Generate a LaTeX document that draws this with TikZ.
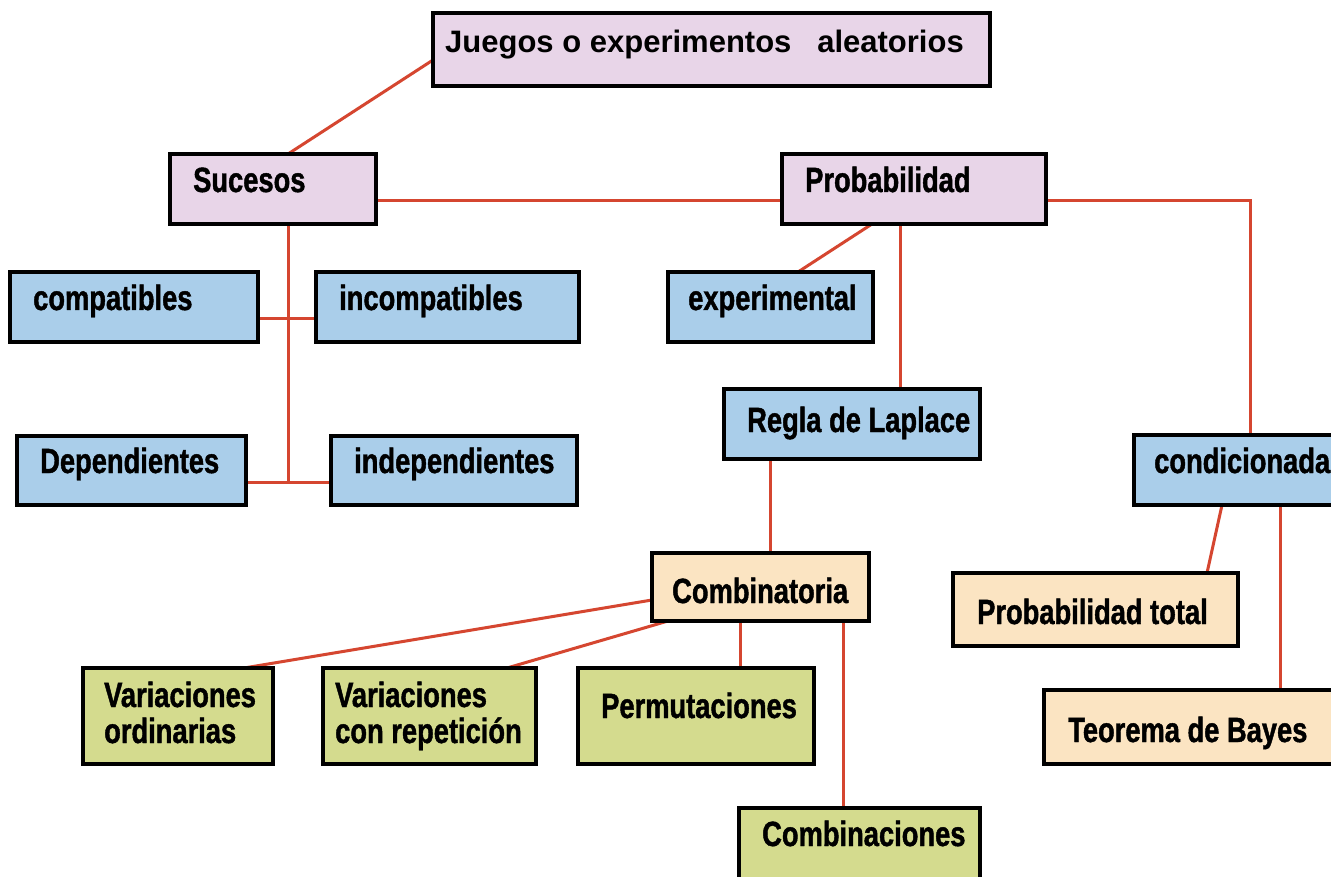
\documentclass[tikz,border=0pt]{standalone}
\usepackage{fontspec}
\usetikzlibrary{backgrounds}
\newfontfamily\condf{Liberation Sans Bold}[FakeStretch=0.78,FakeBold=1.2]
\newfontfamily\titf{Liberation Sans Bold}
\definecolor{pinkc}{RGB}{232,213,232}
\definecolor{bluec}{RGB}{170,206,234}
\definecolor{peachc}{RGB}{251,228,194}
\definecolor{greenc}{RGB}{212,219,142}
\definecolor{linec}{RGB}{213,70,48}
\begin{document}
\begin{tikzpicture}[x=1pt,y=-1pt,
  box/.style={draw=black,line width=3.5pt,rectangle,inner sep=0pt,outer sep=0pt,anchor=north west},
  conn/.style={draw=linec,line width=3pt},
  lbl/.style={inner sep=0pt,anchor=base west,font=\condf\fontsize{35}{36}\selectfont},
  ttl/.style={inner sep=0pt,anchor=base west,font=\titf\fontsize{31}{32}\selectfont}]
\useasboundingbox (0,0) rectangle (1331,877);
\clip (0,0) rectangle (1331,877);
% boxes
\path
 node[box,fill=pinkc,minimum width=557pt,minimum height=73pt] (juegos) at (433,13) {}
 node[box,fill=pinkc,minimum width=206pt,minimum height=70pt] (sucesos) at (170,154) {}
 node[box,fill=pinkc,minimum width=264pt,minimum height=70pt] (probab) at (782,154) {}
 node[box,fill=bluec,minimum width=248pt,minimum height=70pt] (compat) at (10,272) {}
 node[box,fill=bluec,minimum width=263pt,minimum height=70pt] (incompat) at (316,272) {}
 node[box,fill=bluec,minimum width=205pt,minimum height=70pt] (experim) at (668,272) {}
 node[box,fill=bluec,minimum width=229pt,minimum height=69pt] (depend) at (17,436) {}
 node[box,fill=bluec,minimum width=246pt,minimum height=69pt] (indep) at (331,436) {}
 node[box,fill=bluec,minimum width=256pt,minimum height=70pt] (regla) at (724,389) {}
 node[box,fill=bluec,minimum width=215pt,minimum height=70pt] (condic) at (1134,435) {}
 node[box,fill=peachc,minimum width=217pt,minimum height=68pt] (combin) at (652,553) {}
 node[box,fill=peachc,minimum width=285pt,minimum height=73pt] (ptotal) at (953,573) {}
 node[box,fill=greenc,minimum width=190pt,minimum height=96pt] (varord) at (83,668) {}
 node[box,fill=greenc,minimum width=213pt,minimum height=96pt] (varrep) at (323,668) {}
 node[box,fill=greenc,minimum width=236pt,minimum height=96pt] (perm) at (578,668) {}
 node[box,fill=peachc,minimum width=300pt,minimum height=74pt] (bayes) at (1044,690) {}
 node[box,fill=greenc,minimum width=241pt,minimum height=90pt] (combinac) at (739,808) {};
% connectors
\coordinate (sv) at (288,482);
\begin{pgfonlayer}{background}
\draw[conn] ([yshift=26pt]juegos.south west) -- ([xshift=118pt]sucesos.north west);
\draw[conn] ([yshift=-12pt]sucesos.east) -- ([yshift=-12pt]probab.west);
\draw[conn] ([xshift=118pt]sucesos.south west) -- (sv);
\draw[conn] ([yshift=-12pt]compat.east) -- ([yshift=-12pt]incompat.west);
\draw[conn] ([yshift=-11.5pt]depend.east) -- ([yshift=-11.5pt]indep.west);
\draw[conn] ([xshift=90pt]probab.south west) -- ([xshift=130pt]experim.north west);
\draw[conn] ([xshift=118pt]probab.south west) -- ([xshift=176pt]regla.north west);
\draw[conn] ([yshift=-12pt]probab.east) -| ([xshift=116pt]condic.north west);
\draw[conn] ([xshift=46pt]regla.south west) -- ([xshift=118pt]combin.north west);
\draw[conn] ([yshift=21pt]combin.south west) -- ([xshift=161pt]varord.north west);
\draw[conn] ([xshift=16pt]combin.south west) -- ([xshift=184pt]varrep.north west);
\draw[conn] ([xshift=88pt]combin.south west) -- ([xshift=162pt]perm.north west);
\draw[conn] ([xshift=191pt]combin.south west) -- ([xshift=104pt]combinac.north west);
\draw[conn] ([xshift=88pt]condic.south west) -- ([xshift=254pt]ptotal.north west);
\draw[conn] ([xshift=146pt]condic.south west) -- ([xshift=236pt]bayes.north west);
\end{pgfonlayer}
% texts
\node[ttl] (t-juegos) at (445,53) {Juegos o experimentos\ \ \ aleatorios};
\node[lbl] (t-sucesos) at (193,192) {Sucesos};
\node[lbl] (t-probab) at (805,192) {Probabilidad};
\node[lbl] (t-compat) at (33,310) {compatibles};
\node[lbl] (t-incompat) at (339,310) {incompatibles};
\node[lbl] (t-experim) at (688,310) {experimental};
\node[lbl] (t-depend) at (40,473) {Dependientes};
\node[lbl] (t-indep) at (354,473) {independientes};
\node[lbl] (t-regla) at (747,432) {Regla de Laplace};
\node[lbl] (t-condic) at (1154,473) {condicionada};
\node[lbl] (t-combin) at (672,603) {Combinatoria};
\node[lbl] (t-ptotal) at (977,624) {Probabilidad total};
\node[lbl,align=left] (t-varord) at (104,743) {Variaciones\\ordinarias};
\node[lbl,align=left] (t-varrep) at (335,743) {Variaciones\\con repetición};
\node[lbl] (t-perm) at (601,718) {Permutaciones};
\node[lbl] (t-bayes) at (1068,742) {Teorema de Bayes};
\node[lbl] (t-combinac) at (762,846) {Combinaciones};
\end{tikzpicture}
\end{document}
